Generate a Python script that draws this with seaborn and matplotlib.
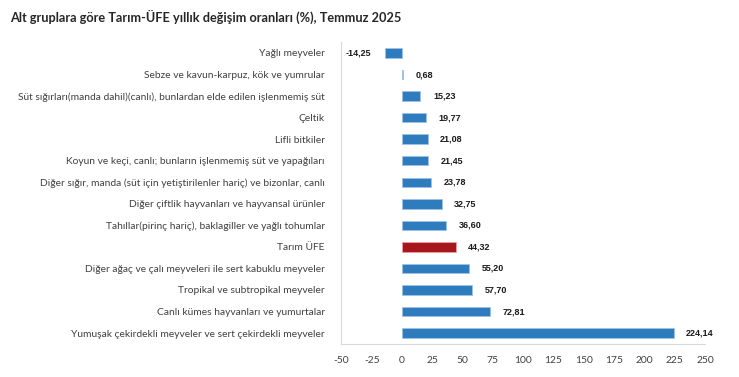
import matplotlib
matplotlib.use("Agg")
import matplotlib.pyplot as plt
import seaborn as sns
import pandas as pd

# Alt gruplar ve yıllık değişim oranları (%)
kategoriler = [
    "Yağlı meyveler",
    "Sebze ve kavun-karpuz, kök ve yumrular",
    "Süt sığırları(manda dahil)(canlı), bunlardan elde edilen işlenmemiş süt",
    "Çeltik",
    "Lifli bitkiler",
    "Koyun ve keçi, canlı; bunların işlenmemiş süt ve yapağıları",
    "Diğer sığır, manda (süt için yetiştirilenler hariç) ve bizonlar, canlı",
    "Diğer çiftlik hayvanları ve hayvansal ürünler",
    "Tahıllar(pirinç hariç), baklagiller ve yağlı tohumlar",
    "Tarım ÜFE",
    "Diğer ağaç ve çalı meyveleri ile sert kabuklu meyveler",
    "Tropikal ve subtropikal meyveler",
    "Canlı kümes hayvanları ve yumurtalar",
    "Yumuşak çekirdekli meyveler ve sert çekirdekli meyveler",
]
degerler = [-14.25, 0.68, 15.23, 19.77, 21.08, 21.45, 23.78,
            32.75, 36.60, 44.32, 55.20, 57.70, 72.81, 224.14]
x_ticks = [-50, -25, 0, 25, 50, 75, 100, 125, 150, 175, 200, 225, 250]

mavi = "#2E7BBD"
kirmizi = "#A8161D"

df = pd.DataFrame({"grup": kategoriler, "deger": degerler})
renkler = {k: (kirmizi if k == "Tarım ÜFE" else mavi) for k in kategoriler}

sns.set_theme(style="white")
plt.rcParams["font.family"] = ["Lato", "DejaVu Sans"]

fig, ax = plt.subplots(figsize=(7.39, 3.77), dpi=100)
fig.subplots_adjust(left=0.462, right=0.954, top=0.888, bottom=0.088)

sns.barplot(data=df, x="deger", y="grup", hue="grup", palette=renkler,
            legend=False, width=0.44, saturation=1, edgecolor="#9DC3E6",
            linewidth=0.6, ax=ax)
for bar, k in zip(ax.patches, kategoriler):
    if k == "Tarım ÜFE":
        bar.set_edgecolor("#E8A0A0")

# değer etiketleri
for i, v in enumerate(degerler):
    metin = f"{v:.2f}".replace(".", ",")
    if v < 0:
        ax.annotate(metin, xy=(-50, i), xytext=(3, 0), textcoords="offset points",
                    ha="left", va="center", fontsize=6.5, fontweight="bold",
                    family="Liberation Sans", color="#1a1a1a")
    else:
        ax.annotate(metin, xy=(v, i), xytext=(9, 0), textcoords="offset points",
                    ha="left", va="center", fontsize=6.5, fontweight="bold",
                    family="Liberation Sans", color="#1a1a1a")

ax.set_xlim(-50, 250)
ax.set_xticks(x_ticks)
ax.set_xticklabels([str(t) for t in x_ticks])
ax.set_xlabel("")
ax.set_ylabel("")
ax.tick_params(axis="both", length=0, labelsize=7.4, colors="#404040")
ax.tick_params(axis="x", pad=9)
ax.tick_params(axis="y", pad=12)

sns.despine(ax=ax)
for s in ["left", "bottom"]:
    ax.spines[s].set_color("#D9D9D9")
    ax.spines[s].set_linewidth(0.8)

fig.text(0.013, 0.955, "Alt gruplara göre Tarım-ÜFE yıllık değişim oranları (%), Temmuz 2025",
         fontsize=9.2, fontweight="bold", color="#262626", ha="left", va="center")

fig.savefig("out.png", dpi=100)
